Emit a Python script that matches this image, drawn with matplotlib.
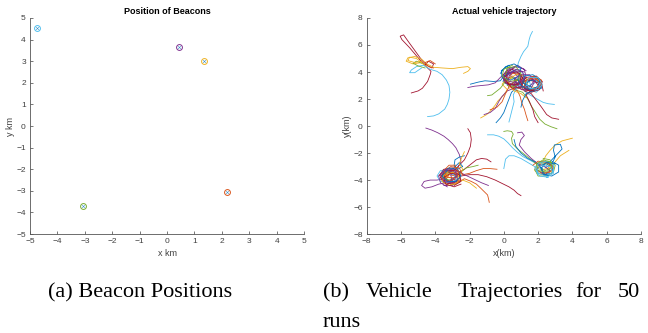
import matplotlib.pyplot as plt

# Colori di default MATLAB
matlab_colors = [
    (0.000, 0.447, 0.741),  # blu
    (0.850, 0.325, 0.098),  # arancio
    (0.929, 0.694, 0.125),  # giallo
    (0.494, 0.184, 0.556),  # viola
    (0.466, 0.674, 0.188),  # verde
    (0.301, 0.745, 0.933),  # azzurro
    (0.635, 0.078, 0.184),  # rosso scuro
]

# Posizione dei beacon [km]
beacon_x = [-4.75, 0.45, 1.35, 2.2, -3.05]
beacon_y = [4.55, 3.65, 3.0, -3.05, -3.7]
beacon_color = [5, 3, 2, 1, 4]

# Traiettorie lette a mano dal grafico, divise per zona (x, y in km)
nw_runs = [
    [(-5.4, 2.45), (-5.0, 2.6), (-4.75, 2.8), (-4.45, 3.3), (-4.3, 3.8), (-4.25, 4.05), (-4.45, 4.3),
     (-4.9, 4.9), (-5.5, 5.8), (-5.95, 6.4), (-6.05, 6.65), (-5.85, 6.75), (-5.6, 6.3), (-5.2, 5.6),
     (-4.8, 4.9), (-4.5, 4.5), (-4.2, 4.3), (-4.1, 4.6), (-4.4, 4.8), (-4.6, 4.5)],
    [(-2.35, 3.9), (-2.1, 4.05), (-1.95, 4.25), (-2.1, 4.4), (-2.5, 4.35), (-3.0, 4.25), (-3.6, 4.3),
     (-4.1, 4.35), (-4.5, 4.6), (-4.8, 4.95), (-5.2, 5.15), (-5.6, 5.05), (-5.7, 4.8), (-5.3, 4.6),
     (-4.8, 4.7), (-4.5, 4.4)],
    [(-4.45, 0.7), (-4.1, 0.75), (-3.8, 0.9), (-3.45, 1.25), (-3.3, 1.6), (-3.2, 2.0), (-3.15, 2.5),
     (-3.2, 3.0), (-3.35, 3.4), (-3.6, 3.8), (-3.9, 4.05), (-4.3, 4.2), (-4.7, 4.5), (-5.1, 4.4),
     (-5.4, 4.15), (-5.5, 3.95), (-5.2, 3.95), (-4.8, 4.3)],
    [(-4.6, 4.3), (-5.0, 4.45), (-5.3, 4.65), (-5.1, 4.8), (-4.7, 4.6)],
    [(-4.0, 4.6), (-4.3, 4.85), (-4.6, 4.7), (-4.4, 4.4), (-4.1, 4.3)],
    [(-4.7, 4.6), (-5.1, 5.0), (-5.5, 5.1), (-5.6, 4.85), (-5.2, 4.7), (-4.8, 4.8)],
]
nw_color = [6, 2, 5, 4, 1, 2]

ne_runs = [
    [(1.67, 7.0), (1.55, 6.7), (1.48, 6.4), (1.4, 5.9), (1.15, 5.5), (1.0, 5.15), (0.85, 4.7), (0.8, 4.4),
     (0.4, 4.3), (0.1, 4.0), (0.05, 3.5), (0.3, 3.1), (0.8, 3.0), (1.2, 3.3), (1.2, 3.8), (0.9, 4.2),
     (0.5, 4.1), (0.3, 3.7)],
    [(-1.95, 3.1), (-1.5, 3.25), (-1.1, 3.35), (-0.6, 3.3), (-0.2, 3.35), (0.0, 3.7), (0.3, 4.0), (0.8, 4.0),
     (1.0, 3.6), (0.8, 3.1), (0.3, 3.0), (-0.05, 3.3), (0.1, 3.8), (0.6, 4.05)],
    [(-2.1, 2.85), (-1.7, 2.95), (-1.3, 3.0), (-0.9, 3.05), (-0.5, 3.2), (-0.2, 3.6), (0.1, 3.95),
     (0.6, 3.95), (0.9, 3.55), (0.6, 3.1), (0.1, 3.2), (0.0, 3.6), (0.4, 3.9)],
    [(2.95, 1.6), (2.6, 1.65), (2.3, 1.75), (1.8, 2.1), (1.4, 2.4), (1.2, 2.6), (1.5, 3.0), (2.0, 3.3),
     (2.2, 2.9), (1.9, 2.5), (1.4, 2.7), (1.3, 3.2), (1.7, 3.45)],
    [(3.2, 0.5), (2.8, 0.6), (2.5, 0.85), (2.2, 1.4), (1.9, 1.9), (1.6, 2.4), (1.2, 2.6), (1.0, 3.0),
     (1.3, 3.4), (1.8, 3.4), (2.0, 3.0), (1.7, 2.6), (1.2, 2.8)],
    [(3.1, -0.2), (2.75, -0.05), (2.4, 0.15), (2.1, 0.5), (1.9, 0.9), (1.6, 1.5), (1.4, 2.0), (1.1, 2.5),
     (0.6, 2.7), (0.5, 3.2), (0.9, 3.5), (1.3, 3.2), (1.1, 2.8)],
    [(-1.35, 0.6), (-1.0, 0.85), (-0.75, 1.15), (-0.5, 1.55), (-0.35, 1.85), (0.0, 2.3), (0.2, 2.7),
     (-0.1, 3.1), (0.2, 3.6), (0.7, 3.5), (0.7, 3.0), (0.3, 2.8)],
    [(-1.15, 0.85), (-0.8, 1.0), (-0.5, 1.3), (-0.3, 1.8), (-0.1, 2.2), (0.2, 2.6), (0.6, 2.8), (0.9, 3.3),
     (0.5, 3.7), (0.1, 3.4), (0.3, 2.9)],
    [(-0.45, 0.25), (-0.2, 0.6), (0.0, 1.0), (0.15, 1.5), (0.3, 2.0), (0.45, 2.5), (0.7, 2.8), (1.2, 2.9),
     (1.4, 3.4), (1.0, 3.8), (0.6, 3.5), (0.8, 3.0)],
    [(1.4, 0.4), (1.3, 0.8), (1.2, 1.25), (1.05, 1.7), (0.95, 2.2), (0.8, 2.6), (0.4, 2.9), (0.2, 3.4),
     (0.5, 3.9), (1.0, 3.8), (1.1, 3.3), (0.7, 3.0)],
    [(2.0, 0.25), (1.8, 0.7), (1.7, 1.2), (1.5, 1.8), (1.3, 2.3), (1.6, 2.6), (2.1, 2.8), (2.2, 3.3),
     (1.8, 3.6), (1.3, 3.4), (1.4, 2.9)],
    [(-0.95, 2.25), (-0.7, 2.3), (-0.5, 2.5), (-0.2, 2.8), (0.1, 3.3), (0.5, 3.6), (0.9, 3.3), (0.7, 2.9),
     (0.2, 3.0)],
    [(-0.8, 1.2), (-0.4, 1.4), (-0.1, 1.8), (0.1, 2.4), (0.3, 2.9), (0.7, 3.4), (1.1, 3.3), (1.0, 2.8),
     (0.5, 2.7)],
    [(0.3, 0.3), (0.4, 0.8), (0.5, 1.3), (0.6, 1.8), (0.55, 2.3), (0.7, 2.7), (1.0, 3.1), (1.5, 3.3),
     (1.6, 2.8), (1.2, 2.6)],
    [(0.6, 4.3), (0.2, 4.1), (-0.1, 3.7), (0.1, 3.2), (0.6, 3.0), (1.0, 3.3), (0.9, 3.9), (0.5, 4.2),
     (0.1, 3.9), (0.2, 3.4)],
    [(2.3, 2.6), (2.2, 3.2), (1.8, 3.5), (1.3, 3.3), (1.2, 2.8), (1.6, 2.5), (2.1, 2.7), (2.0, 3.2),
     (1.5, 3.4)],
    [(1.3, 2.1), (1.0, 2.4), (0.6, 2.6), (0.3, 3.0), (0.4, 3.6), (0.9, 3.9), (1.3, 3.6), (1.4, 3.0),
     (1.9, 2.8), (2.2, 3.1), (1.9, 3.5)],
    [(1.0, 1.4), (1.1, 1.9), (1.3, 2.4), (1.7, 2.6), (2.2, 2.8), (2.1, 3.3), (1.6, 3.4), (1.2, 3.1),
     (1.5, 2.7), (2.0, 2.9)],
    # solo anelli nella zona del beacon
    [(0.0, 3.4), (0.2, 4.0), (0.7, 4.4), (1.2, 4.2), (1.3, 3.6), (0.9, 3.1), (0.3, 3.1), (-0.1, 3.6),
     (0.2, 4.2), (0.8, 4.5), (1.3, 4.1)],
    [(1.0, 2.7), (1.6, 2.6), (2.1, 2.8), (2.25, 3.3), (1.9, 3.7), (1.3, 3.6), (1.0, 3.1), (1.3, 2.7),
     (1.9, 2.7), (2.2, 3.2)],
    [(-0.2, 3.9), (0.1, 4.4), (0.6, 4.6), (1.0, 4.3), (0.9, 3.7), (0.4, 3.4), (-0.1, 3.6), (-0.15, 4.1),
     (0.3, 4.5)],
    [(0.6, 3.0), (1.1, 2.7), (1.6, 2.8), (1.8, 3.3), (1.5, 3.8), (0.9, 3.8), (0.6, 3.4), (0.9, 2.9),
     (1.5, 2.9), (1.8, 3.4)],
    [(1.4, 3.5), (1.8, 3.7), (2.2, 3.4), (2.1, 2.9), (1.6, 2.7), (1.2, 2.9), (1.3, 3.4), (1.8, 3.6),
     (2.2, 3.1)],
    [(0.2, 3.2), (0.5, 2.8), (1.0, 2.9), (1.2, 3.4), (0.9, 3.9), (0.4, 4.0), (0.0, 3.6), (0.3, 3.1),
     (0.9, 3.1), (1.1, 3.6)],
    [(0.5, 4.5), (0.0, 4.2), (-0.1, 3.7), (0.3, 3.3), (0.8, 3.4), (1.0, 3.9), (0.7, 4.4), (0.2, 4.3),
     (0.1, 3.8)],
    [(0.8, 3.5), (1.0, 3.0), (1.5, 2.7), (2.0, 2.9), (2.1, 3.4), (1.7, 3.8), (1.2, 3.7), (1.1, 3.2),
     (1.6, 2.9)],
    [(0.3, 3.7), (0.6, 4.1), (1.1, 4.0), (1.2, 3.5), (0.8, 3.2), (0.3, 3.3), (0.2, 3.8), (0.7, 4.2),
     (1.2, 4.0)],
    [(1.9, 2.8), (2.2, 3.2), (2.0, 3.6), (1.5, 3.6), (1.3, 3.2), (1.5, 2.8), (2.0, 2.7), (2.25, 3.1)],
]
ne_color = [5, 0, 3, 5, 6, 4, 2, 3, 0, 1, 6, 4, 1, 5, 6, 6, 2, 0,
            3, 6, 0, 3, 1, 6, 4, 0, 3, 5]

sw_runs = [
    [(-4.55, -0.15), (-4.2, -0.3), (-3.85, -0.5), (-3.5, -0.75), (-3.25, -1.0), (-3.0, -1.3), (-2.8, -1.6),
     (-2.6, -2.1), (-2.5, -2.6), (-2.7, -3.1), (-3.0, -3.3), (-3.5, -3.4), (-3.7, -3.8), (-3.4, -4.2),
     (-2.9, -4.1), (-2.8, -3.7)],
    [(-2.1, -0.2), (-1.95, -0.5), (-1.9, -1.0), (-1.95, -1.5), (-2.1, -2.0), (-2.3, -2.5), (-2.6, -2.9),
     (-2.9, -3.3), (-3.3, -3.4), (-3.5, -3.8), (-3.2, -4.1), (-2.8, -3.9), (-2.9, -3.5)],
    [(-0.75, -2.65), (-1.0, -2.45), (-1.3, -2.4), (-1.6, -2.5), (-1.9, -2.8), (-2.3, -3.2), (-2.7, -3.5),
     (-3.1, -3.4), (-3.5, -3.6), (-3.5, -4.0), (-3.1, -4.2), (-2.7, -4.0)],
    [(1.0, -5.15), (0.8, -5.0), (0.6, -4.75), (0.3, -4.5), (-0.1, -4.25), (-0.5, -4.0), (-1.0, -3.75),
     (-1.5, -3.6), (-2.0, -3.6), (-2.5, -3.7), (-2.9, -3.4), (-3.3, -3.5), (-3.4, -3.9), (-3.0, -4.2),
     (-2.6, -4.0)],
    [(-0.4, -3.2), (-0.8, -3.15), (-1.2, -3.15), (-1.6, -3.3), (-2.0, -3.5), (-2.4, -3.6), (-2.8, -3.3),
     (-3.2, -3.3), (-3.5, -3.7), (-3.2, -4.1), (-2.8, -3.9)],
    [(-0.85, -5.65), (-0.9, -5.35), (-0.95, -5.1), (-1.15, -4.85), (-1.35, -4.6), (-1.6, -4.3),
     (-1.9, -4.1), (-2.3, -3.9), (-2.7, -4.2), (-3.1, -4.3), (-3.4, -4.0), (-3.2, -3.6), (-2.8, -3.7)],
    [(-3.5, -3.9), (-3.9, -4.0), (-4.3, -4.0), (-4.65, -4.1), (-4.8, -4.4), (-4.6, -4.6), (-4.2, -4.5),
     (-3.8, -4.3), (-3.4, -4.2), (-3.0, -4.3), (-2.7, -4.0)],
    [(-2.3, -2.2), (-2.6, -2.3), (-2.85, -2.5), (-2.9, -2.9), (-2.7, -3.2), (-2.4, -3.0), (-2.6, -2.7),
     (-3.0, -3.2), (-3.4, -3.3), (-3.6, -3.7), (-3.3, -4.0)],
    [(-1.6, -4.6), (-1.8, -4.4), (-2.0, -4.2), (-2.4, -4.0), (-2.8, -4.3), (-3.2, -4.4), (-3.6, -4.1),
     (-3.7, -3.6), (-3.3, -3.3), (-2.9, -3.5)],
    [(-1.5, -2.9), (-1.8, -3.0), (-2.2, -3.1), (-2.5, -3.4), (-2.8, -3.8), (-3.2, -4.0), (-3.6, -3.8),
     (-3.4, -3.4), (-2.9, -3.4), (-2.7, -3.8)],
    [(-3.3, -3.2), (-3.7, -3.3), (-3.9, -3.7), (-3.7, -4.1), (-3.2, -4.2), (-2.8, -4.0), (-2.9, -3.6),
     (-3.3, -3.5)],
    [(-2.3, -1.9), (-2.45, -2.3), (-2.6, -2.8), (-2.4, -3.2), (-2.6, -3.7), (-3.0, -3.9), (-3.4, -3.7),
     (-3.2, -3.2)],
    [(-0.9, -4.4), (-1.3, -4.2), (-1.8, -3.9), (-2.3, -3.6), (-2.7, -3.3), (-3.1, -3.6), (-3.0, -4.1),
     (-2.6, -4.1)],
    # solo anelli nella zona del beacon
    [(-3.8, -3.7), (-3.5, -3.2), (-3.0, -3.1), (-2.6, -3.4), (-2.6, -3.9), (-3.0, -4.3), (-3.5, -4.2),
     (-3.7, -3.8), (-3.4, -3.3), (-2.9, -3.3)],
    [(-2.4, -3.6), (-2.6, -3.1), (-3.1, -3.0), (-3.5, -3.4), (-3.4, -4.0), (-2.9, -4.3), (-2.5, -4.0),
     (-2.6, -3.5), (-3.1, -3.4)],
    [(-3.3, -4.5), (-3.7, -4.2), (-3.8, -3.7), (-3.4, -3.3), (-2.9, -3.4), (-2.7, -3.9), (-3.0, -4.4),
     (-3.5, -4.4)],
    [(-3.0, -3.5), (-3.5, -3.6), (-3.6, -4.1), (-3.2, -4.4), (-2.7, -4.2), (-2.6, -3.7), (-3.0, -3.4),
     (-3.4, -3.7)],
    [(-2.5, -4.3), (-2.9, -4.5), (-3.4, -4.3), (-3.5, -3.8), (-3.1, -3.5), (-2.6, -3.6), (-2.5, -4.1),
     (-2.9, -4.4)],
    [(-3.6, -3.4), (-3.2, -3.1), (-2.7, -3.2), (-2.5, -3.7), (-2.8, -4.1), (-3.3, -4.1), (-3.6, -3.7),
     (-3.3, -3.3)],
    [(-2.8, -2.9), (-3.2, -2.9), (-3.5, -3.3), (-3.3, -3.8), (-2.8, -3.8), (-2.6, -3.4), (-2.9, -3.0)],
    [(-3.1, -4.0), (-2.7, -3.7), (-2.9, -3.2), (-3.4, -3.2), (-3.7, -3.6), (-3.5, -4.1), (-3.0, -4.2)],
]
sw_color = [3, 6, 6, 6, 1, 1, 3, 0, 2, 4, 5, 2, 3,
            6, 1, 3, 2, 6, 0, 1, 3]

se_runs = [
    [(-0.95, -0.65), (-0.6, -0.65), (-0.3, -0.75), (0.0, -0.95), (0.25, -1.25), (0.5, -1.6), (0.8, -1.95),
     (1.1, -2.25), (1.4, -2.45), (1.7, -2.65), (2.0, -2.8), (2.3, -2.6), (2.7, -2.8), (2.8, -3.2),
     (2.5, -3.6), (2.0, -3.5), (1.9, -3.1), (2.2, -2.8)],
    [(0.0, -3.15), (0.05, -2.8), (0.1, -2.45), (0.3, -2.2), (0.6, -2.2), (1.0, -2.4), (1.4, -2.7),
     (1.8, -3.0), (2.1, -3.4), (2.6, -3.5), (2.9, -3.1), (2.6, -2.7), (2.1, -2.8)],
    [(0.0, -0.4), (0.2, -0.35), (0.45, -0.4), (0.55, -0.6), (0.45, -0.9), (0.5, -1.3), (0.8, -1.7),
     (1.2, -2.1), (1.6, -2.5), (2.0, -2.9), (2.4, -3.3), (2.8, -3.1), (2.6, -2.7), (2.2, -2.9)],
    [(4.0, -0.9), (3.7, -1.0), (3.4, -1.1), (3.0, -1.4), (2.7, -1.8), (2.45, -2.2), (2.3, -2.6),
     (1.9, -2.9), (1.8, -3.3), (2.2, -3.6), (2.7, -3.4), (2.6, -3.0)],
    [(3.8, -1.8), (3.55, -2.0), (3.3, -2.2), (3.1, -2.5), (2.9, -2.8), (2.6, -3.1), (2.2, -3.3),
     (1.9, -3.0), (2.2, -2.7), (2.7, -2.9), (2.8, -3.4)],
    [(2.5, -2.9), (2.8, -2.5), (3.1, -2.1), (3.4, -1.7), (3.3, -1.35), (2.95, -1.4), (2.9, -1.8),
     (3.0, -2.3), (2.8, -2.8), (2.4, -3.1)],
    [(0.8, -0.5), (1.05, -0.45), (1.2, -0.7), (1.0, -1.0), (0.9, -1.4), (1.2, -1.9), (1.6, -2.4),
     (2.0, -2.8), (2.4, -3.0), (2.7, -3.3), (2.4, -3.6), (2.0, -3.3)],
    [(0.6, -1.0), (0.7, -1.5), (1.0, -2.0), (1.4, -2.4), (1.9, -2.7), (2.2, -3.1), (2.4, -3.6),
     (2.8, -3.5), (2.9, -3.0), (2.5, -2.7), (2.1, -3.0), (2.3, -3.5)],
    [(1.7, -2.9), (2.0, -2.6), (2.5, -2.7), (2.9, -3.0), (2.7, -3.4), (2.2, -3.5), (1.9, -3.2),
     (2.2, -2.9)],
    [(1.8, -3.2), (2.0, -3.7), (2.5, -3.7), (2.9, -3.4), (3.0, -2.9), (2.6, -2.6), (2.1, -2.7)],
    # solo anelli nella zona del beacon
    [(2.0, -3.6), (1.8, -3.1), (2.1, -2.7), (2.6, -2.6), (2.9, -2.9), (2.9, -3.4), (2.5, -3.7),
     (2.0, -3.5), (1.9, -3.0)],
    [(2.8, -2.6), (3.2, -2.9), (3.2, -3.4), (2.8, -3.7), (2.3, -3.6), (2.2, -3.1), (2.5, -2.7),
     (3.0, -2.8)],
    [(2.3, -2.4), (2.7, -2.5), (2.8, -3.0), (2.5, -3.4), (2.0, -3.3), (1.9, -2.8), (2.3, -2.5),
     (2.8, -2.7)],
    [(2.6, -3.8), (2.1, -3.7), (1.9, -3.3), (2.2, -2.9), (2.7, -3.0), (2.9, -3.5), (2.5, -3.8)],
]
se_color = [5, 5, 4, 2, 2, 0, 3, 0, 1, 4, 5, 0, 4, 5]

fig = plt.figure(figsize=(6.48, 3.33), dpi=100)
plt.rcParams['font.family'] = 'Liberation Sans'


def style_axes(ax, lim, label_x, label_y, title):
    ax.set_xlim(-lim, lim)
    ax.set_ylim(-lim, lim)
    ax.spines['top'].set_visible(False)
    ax.spines['right'].set_visible(False)
    for s in ('left', 'bottom'):
        ax.spines[s].set_color('#555555')
        ax.spines[s].set_linewidth(0.6)
    ax.tick_params(direction='in', length=2, width=0.5, labelsize=6, colors='#404040', pad=3)
    ax.set_xlabel(label_x, fontsize=6.5, color='#404040', labelpad=3)
    ax.set_ylabel(label_y, fontsize=6.5, color='#404040', labelpad=1)
    ax.set_title(title, fontsize=6.5, fontweight='bold', pad=3)


# Primo grafico: posizione dei beacon
ax1 = fig.add_axes([0.0463, 0.297, 0.423, 0.649])
for bx, by, c in zip(beacon_x, beacon_y, beacon_color):
    ax1.plot(bx, by, 'o', mfc='none', mec=matlab_colors[c], ms=4.2, mew=0.7)
    ax1.plot(bx, by, 'x', color=matlab_colors[0], ms=2, mew=0.4, alpha=0.8)
ax1.set_xticks(range(-5, 6))
ax1.set_yticks(range(-5, 6))
style_axes(ax1, 5, 'x km', 'y km', 'Position of Beacons')

# Secondo grafico: traiettorie del veicolo
ax2 = fig.add_axes([0.566, 0.297, 0.423, 0.649])
for runs, colors in ((nw_runs, nw_color), (ne_runs, ne_color), (sw_runs, sw_color), (se_runs, se_color)):
    for run, c in zip(runs, colors):
        xs = [p[0] for p in run]
        ys = [p[1] for p in run]
        ax2.plot(xs, ys, color=matlab_colors[c], lw=0.6)
ax2.set_xticks(range(-8, 9, 2))
ax2.set_yticks(range(-8, 9, 2))
style_axes(ax2, 8, 'x(km)', 'y(km)', 'Actual vehicle trajectory')

# Didascalie in stile articolo
cap = dict(family='Liberation Serif', fontsize=16, va='baseline')
fig.text(48 / 648, 0.108, '(a) Beacon Positions', **cap)
for word, px in zip(['(b)', 'Vehicle', 'Trajectories', 'for', '50'], [323, 366, 458, 575, 618]):
    fig.text(px / 648, 0.108, word, **cap)
fig.text(323 / 648, 0.018, 'runs', **cap)

fig.savefig('out.png', dpi=100)
